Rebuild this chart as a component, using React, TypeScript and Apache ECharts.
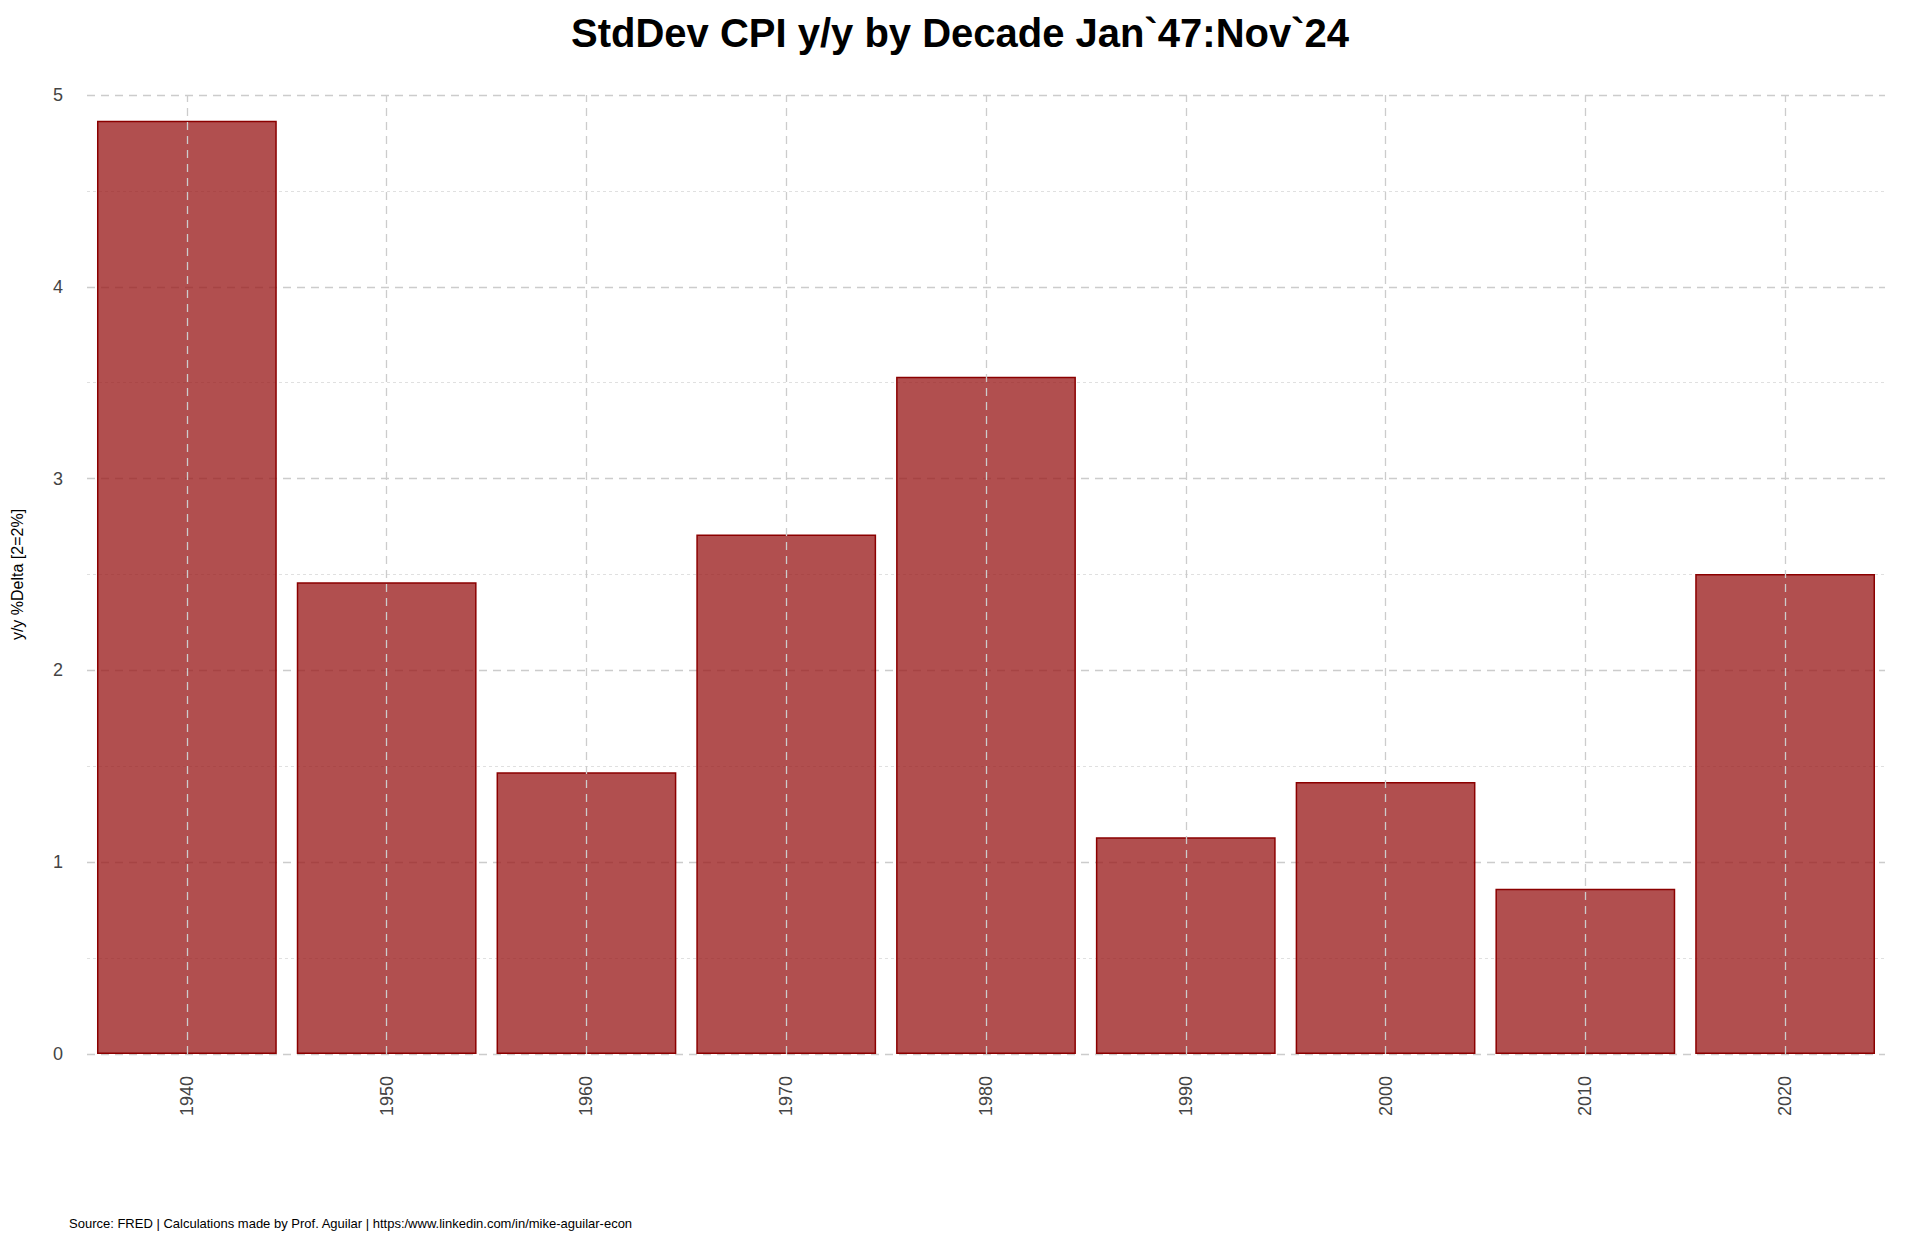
import React, { useEffect, useRef } from "react";
import * as echarts from "echarts";

const decades = ["1940", "1950", "1960", "1970", "1980", "1990", "2000", "2010", "2020"];
const stdDev = [4.866, 2.459, 1.469, 2.708, 3.531, 1.13, 1.418, 0.862, 2.503];
const yTicks = [0, 1, 2, 3, 4, 5];

export default function App() {
  const ref = useRef<HTMLDivElement>(null);
  useEffect(() => {
    const chart = echarts.init(ref.current!, null, { renderer: "svg" });
    const font = "Liberation Sans, Arial, sans-serif";
    chart.setOption({
      animation: false,
      backgroundColor: "#fff",
      textStyle: { fontFamily: font },
      title: {
        text: "StdDev CPI y/y by Decade Jan`47:Nov`24",
        left: "center",
        top: 8,
        textStyle: { fontSize: 40, fontWeight: "bold", color: "#000", fontFamily: font },
      },
      graphic: [
        {
          type: "text",
          left: 69,
          top: 1217,
          style: {
            text: "Source: FRED | Calculations made by Prof. Aguilar | https:/www.linkedin.com/in/mike-aguilar-econ",
            fontSize: 13,
            fill: "#000",
            fontFamily: font,
          },
        },
      ],
      grid: { left: 87, right: 35, top: 95, bottom: 194 },
      xAxis: {
        type: "category",
        data: decades,
        axisLine: { show: false },
        axisTick: { show: false },
        splitLine: { show: false },
        axisLabel: { rotate: 90, fontSize: 18, color: "#444", margin: 22, fontFamily: font },
      },
      yAxis: {
        type: "value",
        min: 0,
        max: 5,
        interval: 1,
        name: "y/y %Delta [2=2%]",
        nameLocation: "middle",
        nameGap: 62,
        nameRotate: 90,
        nameTextStyle: { fontSize: 16, color: "#000", fontFamily: font },
        axisLine: { show: false },
        axisTick: { show: false },
        axisLabel: {
          fontSize: 18,
          color: "#444",
          margin: 24,
          formatter: (v: number) => (yTicks.includes(v) ? String(v) : ""),
        },
        splitLine: { lineStyle: { color: "#cccccc", type: [8, 6], width: 1.3 } },
        minorTick: { show: false, splitNumber: 2 },
        minorSplitLine: { show: true, lineStyle: { color: "#e0e0e0", type: [3, 3], width: 1 } },
      },
      series: [
        {
          type: "bar",
          data: stdDev,
          barCategoryGap: "10%",
          itemStyle: { color: "rgba(155,30,30,0.78)", borderColor: "#8b0000", borderWidth: 1.5 },
          markLine: {
            silent: true,
            symbol: "none",
            label: { show: false },
            lineStyle: { color: "#cccccc", type: [8, 6], width: 1.3 },
            data: decades.map((d) => ({ xAxis: d })),
          },
        },
      ],
    });
    return () => chart.dispose();
  }, []);
  return (
    <div
      ref={ref}
      style={{ position: "absolute", left: 0, top: 0, width: 1920, height: 1248 }}
    />
  );
}
